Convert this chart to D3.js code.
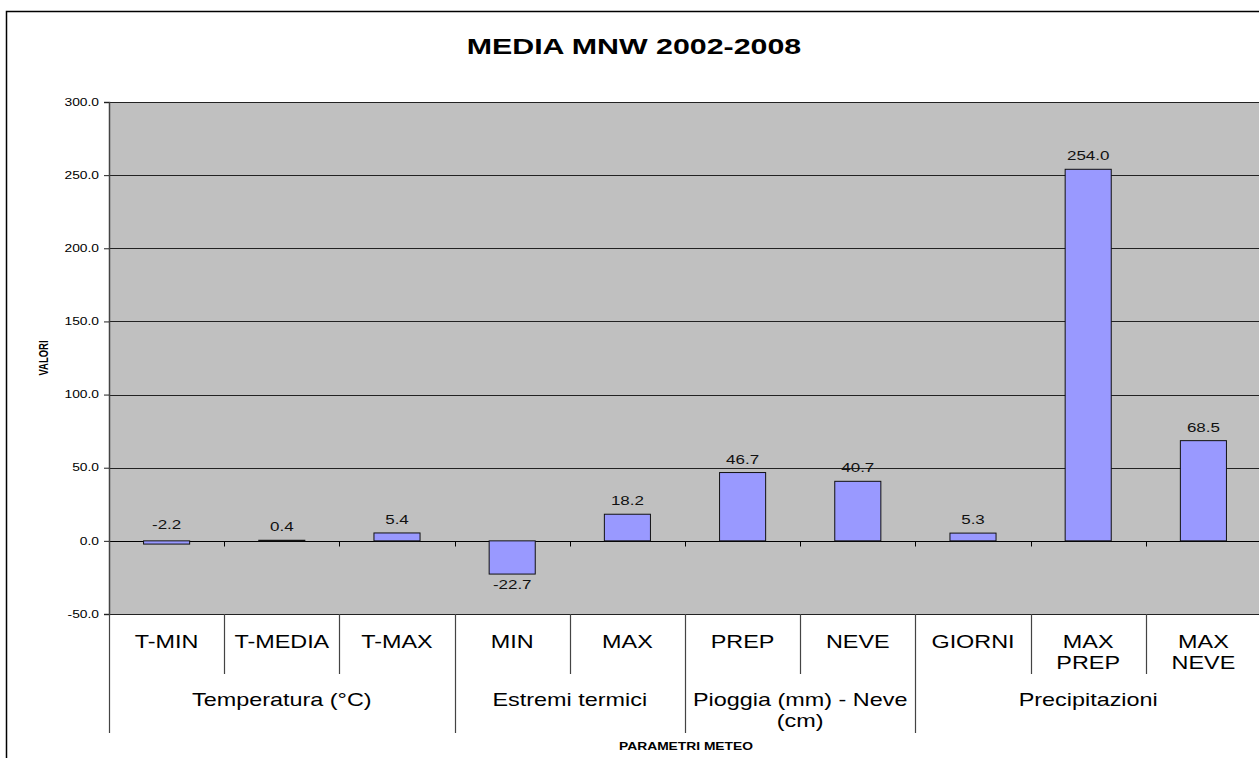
<!DOCTYPE html>
<html>
<head>
<meta charset="utf-8">
<script src="https://cdn.jsdelivr.net/npm/d3@7"></script>
<style>
  body { margin: 0; background: #fff; }
  text { font-family: "Liberation Sans", Arial, sans-serif; }
</style>
</head>
<body>
<svg id="chart" width="1259" height="758"></svg>
<script>
// data
const categories = ["T-MIN", "T-MEDIA", "T-MAX", "MIN", "MAX", "PREP", "NEVE", "GIORNI", "MAX\nPREP", "MAX\nNEVE"];
const values = [-2.2, 0.4, 5.4, -22.7, 18.2, 46.7, 40.7, 5.3, 254.0, 68.5];
const groups = ["Temperatura (°C)", "Estremi termici", "Pioggia (mm) - Neve\n(cm)", "Precipitazioni"];
const groupSizes = [3, 2, 2, 3];
const yTicks = [-50, 0, 50, 100, 150, 200, 250, 300];

// the original picture is stretched sideways, so text is widened too
const SX = 1.38;
const fmt = d => d.toFixed(1);

const svg = d3.select("#chart");

// outer frame
svg.append("rect")
   .attr("x", 6.5).attr("y", 11.5)
   .attr("width", 1300).attr("height", 800)
   .attr("fill", "#fff").attr("stroke", "#000").attr("stroke-width", 1.5);

const plotLeft = 109, plotTop = 102, plotRight = 1261, plotBottom = 614;

const xScale = d3.scaleBand()
   .range([plotLeft, plotRight])
   .domain(categories)
   .paddingInner(0).paddingOuter(0);

const yScale = d3.scaleLinear()
   .range([plotBottom, plotTop])
   .domain([-50, 300]);

// wide text helper: anchored at (x, y), stretched horizontally by k
function wideText(parent, x, y, k, lines, size, weight, lineH) {
   const t = parent.append("text")
      .attr("transform", `translate(${x},${y}) scale(${k},1)`)
      .attr("text-anchor", "middle")
      .attr("font-size", size)
      .attr("font-weight", weight || "normal")
      .attr("fill", "#000");
   lines.forEach((l, j) => t.append("tspan").attr("x", 0).attr("y", j * (lineH || 0)).text(l));
   return t;
}

// plot background
svg.append("rect")
   .attr("x", plotLeft).attr("y", plotTop)
   .attr("width", plotRight - plotLeft).attr("height", plotBottom - plotTop)
   .attr("fill", "#c0c0c0");

// gridlines
svg.append("g")
   .selectAll("line")
   .data(yTicks)
   .enter()
   .append("line")
   .attr("x1", plotLeft).attr("x2", plotRight)
   .attr("y1", d => Math.round(yScale(d)) + 0.5)
   .attr("y2", d => Math.round(yScale(d)) + 0.5)
   .attr("stroke", d => d === 0 ? "#000" : "#222")
   .attr("stroke-width", 1);

// y axis
const yAxis = svg.append("g")
   .attr("transform", `translate(${plotLeft}, 0)`)
   .call(d3.axisLeft(yScale).tickValues(yTicks).tickFormat(fmt).tickSize(5).tickPadding(5));
yAxis.select(".domain").attr("stroke", "#444").attr("stroke-width", 1.5);
yAxis.selectAll(".tick line").attr("stroke", "#222");
yAxis.selectAll("text")
   .attr("font-size", 10).attr("fill", "#000")
   .attr("x", -10 / SX)
   .attr("transform", `scale(${SX},1)`)
   .style("font-family", "'Liberation Sans', Arial, sans-serif");

// x axis on zero line with small ticks at category boundaries
const zeroY = Math.round(yScale(0)) + 0.5;
svg.append("g")
   .selectAll("line")
   .data(categories.slice(1))
   .enter()
   .append("line")
   .attr("x1", d => Math.round(xScale(d)) + 0.5)
   .attr("x2", d => Math.round(xScale(d)) + 0.5)
   .attr("y1", zeroY).attr("y2", zeroY + 5)
   .attr("stroke", "#000");

// bars
const barW = xScale.bandwidth() / 2.5;
svg.append("g")
   .selectAll("rect")
   .data(values)
   .enter()
   .append("rect")
   .attr("x", (d, i) => xScale(categories[i]) + (xScale.bandwidth() - barW) / 2)
   .attr("y", d => yScale(Math.max(0, d)))
   .attr("width", barW)
   .attr("height", d => Math.abs(yScale(d) - yScale(0)))
   .attr("fill", "#9999ff")
   .attr("stroke", "#111")
   .attr("stroke-width", 1);

// value labels
const labelG = svg.append("g");
values.forEach((v, i) => {
   const cx = xScale(categories[i]) + xScale.bandwidth() / 2;
   let y;
   if (v >= 0) y = yScale(v) - 9;
   else if (v > -5) y = yScale(0) - 9 - (yScale(v) - yScale(0));
   else y = yScale(v) + 15;
   wideText(labelG, cx, y, SX, [fmt(v)], 12.3).attr("fill", "#111");
});

// category labels below plot
const catRow = svg.append("g");
categories.forEach(c => {
   wideText(catRow, xScale(c) + xScale.bandwidth() / 2, 648, 1.3, c.split("\n"), 18, "normal", 21.5);
});

// separators
let idx = 0;
const groupStarts = [];
groupSizes.forEach(s => { groupStarts.push(idx); idx += s; });
categories.forEach((c, i) => {
   const isGroup = groupStarts.includes(i);
   svg.append("line")
      .attr("x1", Math.round(xScale(c)) + 0.5).attr("x2", Math.round(xScale(c)) + 0.5)
      .attr("y1", plotBottom).attr("y2", isGroup ? 733 : 674)
      .attr("stroke", "#444").attr("stroke-width", 1.2);
});

// group labels
groups.forEach((g, k) => {
   const first = categories[groupStarts[k]];
   const last = categories[groupStarts[k] + groupSizes[k] - 1];
   const cx = (xScale(first) + xScale(last) + xScale.bandwidth()) / 2;
   wideText(svg, cx, 705.5, 1.3, g.split("\n"), 18, "normal", 22);
});

// title and axis titles
wideText(svg, 634, 53.5, SX, ["MEDIA MNW 2002-2008"], 22, "bold");

svg.append("text")
   .attr("transform", "translate(48, 358) rotate(-90) scale(1,1.4)")
   .attr("text-anchor", "middle")
   .attr("font-size", 9.5).attr("font-weight", "bold")
   .text("VALORI");

wideText(svg, 686, 750, SX, ["PARAMETRI METEO"], 10, "bold");
</script>
</body>
</html>
